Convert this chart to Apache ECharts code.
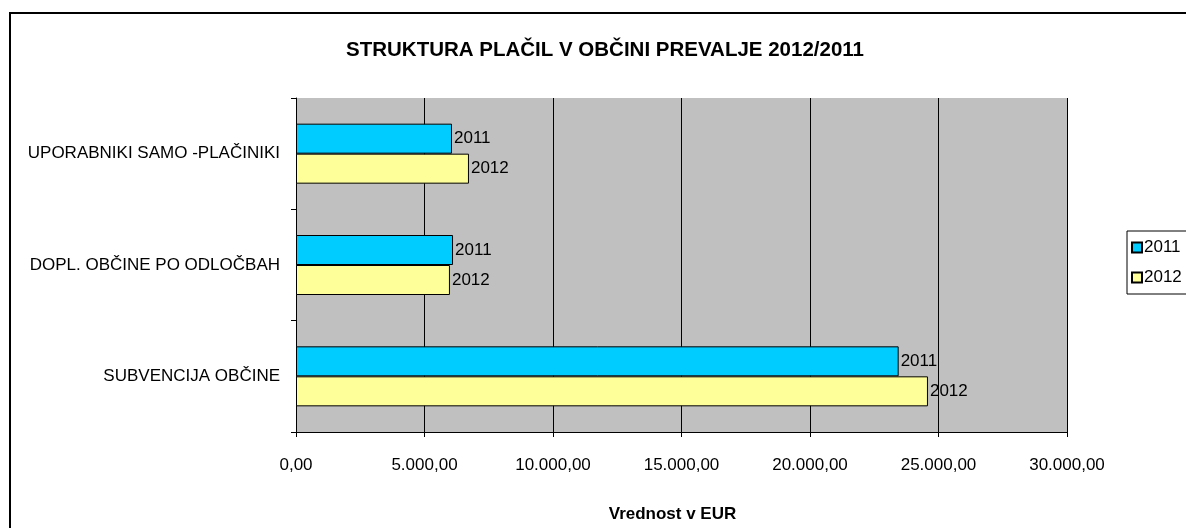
<!DOCTYPE html>
<html>
<head>
<meta charset="utf-8">
<script src="https://cdn.jsdelivr.net/npm/echarts@6/dist/echarts.min.js"></script>
<style>
  html, body { margin: 0; padding: 0; background: #fff; }
  #chart { width: 1186px; height: 528px; }
</style>
</head>
<body>
<div id="chart"></div>
<script>
// podatki
var categories = ["SUBVENCIJA OBČINE", "DOPL. OBČINE PO ODLOČBAH", "UPORABNIKI SAMO -PLAČINIKI"];
var values2011 = [23450, 6110, 6070];
var values2012 = [24590, 5990, 6730];
var seriesNames = ["2011", "2012"];
var xTicks = { min: 0, max: 30000, interval: 5000 };

function fmtEur(v) {
  var s = Math.round(v).toString().replace(/\B(?=(\d{3})+(?!\d))/g, ".");
  return s + ",00";
}

var chart = echarts.init(document.getElementById("chart"));
var font = "Liberation Sans, Arial, sans-serif";

var option = {
  animation: false,
  textStyle: { fontFamily: font },
  title: {
    text: "STRUKTURA PLAČIL V OBČINI PREVALJE 2012/2011",
    left: 600,
    textAlign: "center",
    top: 35,
    textStyle: { fontSize: 20.5, fontWeight: "bold", color: "#000", fontFamily: font }
  },
  graphic: [
    {
      type: "rect",
      shape: { x: 10, y: 13, width: 1300, height: 700 },
      style: { fill: null, stroke: "#000", lineWidth: 2 },
      z: -10
    }
  ],
  legend: {
    orient: "vertical",
    left: 1127,
    top: 231,
    data: seriesNames,
    backgroundColor: "#fff",
    borderColor: "#000",
    borderWidth: 1,
    padding: [8, 6, 8, 4],
    itemGap: 13,
    itemWidth: 10,
    itemHeight: 10,
    icon: "rect",
    textStyle: { fontSize: 17, color: "#000", fontFamily: font, padding: [0, 0, 0, -3] }
  },
  grid: {
    left: 296,
    right: 119,
    top: 98,
    bottom: 96,
    show: true,
    backgroundColor: "#C0C0C0",
    borderWidth: 0
  },
  xAxis: {
    type: "value",
    min: xTicks.min,
    max: xTicks.max,
    interval: xTicks.interval,
    name: "Vrednost v EUR",
    nameLocation: "middle",
    nameGap: 74,
    nameTextStyle: { fontSize: 17, fontWeight: "bold", color: "#000", fontFamily: font, padding: [0, 18, 0, 0] },
    axisLine: { show: true, lineStyle: { color: "#000", width: 1 } },
    axisTick: { show: true, length: 5, lineStyle: { color: "#000" } },
    axisLabel: { formatter: fmtEur, fontSize: 17, color: "#000", margin: 25 },
    splitLine: { show: true, lineStyle: { color: "#000", width: 1 } }
  },
  yAxis: {
    type: "category",
    data: categories,
    axisLine: { show: true, lineStyle: { color: "#000", width: 1 } },
    axisTick: { show: true, length: 5, lineStyle: { color: "#000" } },
    axisLabel: { fontSize: 17, color: "#000", margin: 16 },
    splitLine: { show: false }
  },
  series: [
    {
      name: seriesNames[0],
      type: "bar",
      data: values2011,
      barWidth: 30,
      barGap: "0%",
      barCategoryGap: "45%",
      itemStyle: { color: "#00CCFF", borderColor: "#000", borderWidth: 1 },
      label: { show: true, position: "right", distance: 2, formatter: "{a}", fontSize: 17, color: "#000" }
    },
    {
      name: seriesNames[1],
      type: "bar",
      data: values2012,
      barWidth: 30,
      barGap: "0%",
      itemStyle: { color: "#FFFF99", borderColor: "#000", borderWidth: 1 },
      label: { show: true, position: "right", distance: 2, formatter: "{a}", fontSize: 17, color: "#000" }
    }
  ]
};

chart.setOption(option);
window.onresize = function () { chart.resize(); };
</script>
</body>
</html>
